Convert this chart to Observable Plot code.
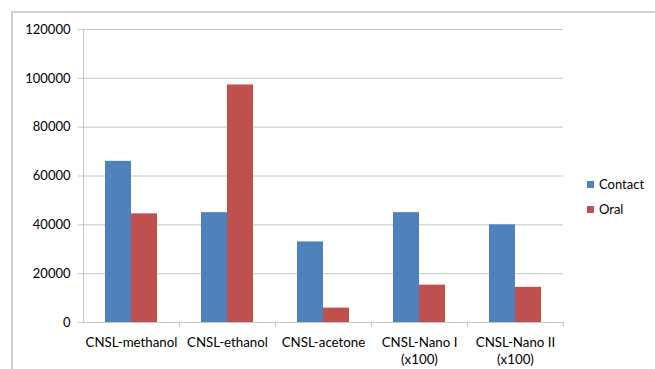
<!DOCTYPE html>
<html><head><meta charset="utf-8">
<script src="https://cdn.jsdelivr.net/npm/d3@7"></script>
<script src="https://cdn.jsdelivr.net/npm/@observablehq/plot@0.6"></script>
<style>
body{margin:0;background:#fff;font-family:Lato,sans-serif}
#wrap{position:relative;width:655px;height:369px;overflow:hidden}
#border{position:absolute;left:11px;top:11px;width:700px;height:400px;border-top:2px solid #cfcfcf;border-left:2px solid #cfcfcf}
#chart{position:absolute;left:0;top:0}
#legend{position:absolute;left:587px;top:172px;font:13px Lato,sans-serif;color:#000}
#legend div{height:25px;display:flex;align-items:center;line-height:1}
#legend span.sw{display:inline-block;width:7px;height:7px;margin-right:5px}
</style></head><body><div id="wrap"><div id="border"></div><div id="chart"></div><div id="legend"></div></div>
<script>
const categories = ["CNSL-methanol","CNSL-ethanol","CNSL-acetone","CNSL-Nano I\n(x100)","CNSL-Nano II\n(x100)"];
const series = ["Contact","Oral"];
const contact = [66000,45000,33000,45000,40000];
const oral = [44500,97300,5900,15300,14400];
const yTicks = [0,20000,40000,60000,80000,100000,120000];
const colors = ["#4F81BD","#C0504D"];

const data = [];
categories.forEach((c,i)=>{
  data.push({category:c, series:series[0], value:contact[i]});
  data.push({category:c, series:series[1], value:oral[i]});
});

const W=655,H=369,mL=82,mR=92,mT=29,mB=47;
const step=(W-mL-mR)/categories.length;
const grid="#c4c4c4";
const plot = Plot.plot({
  width:W,height:H,marginLeft:mL,marginRight:mR,marginTop:mT,marginBottom:mB,
  style:{fontFamily:"Lato, sans-serif", fontSize:"13px", color:"#000", background:"transparent"},
  fx:{domain:categories, padding:0, label:null, axis:null},
  x:{domain:series, paddingInner:0, paddingOuter:0.78, axis:null},
  y:{domain:[0,120000], axis:null},
  color:{domain:series, range:colors},
  marks:[
    Plot.gridY(yTicks,{stroke:grid, strokeOpacity:1}),
    Plot.barY(data,{fx:"category", x:"series", y:"value", fill:"series"}),
    Plot.ruleY([0],{stroke:grid}),
    Plot.frame({anchor:"left", facetAnchor:"left", stroke:grid}),
    Plot.axisY(yTicks,{tickSize:5, tickPadding:8, stroke:grid, fill:"#000", tickFormat:d3.format("d"), label:null}),
    Plot.axisFx({anchor:"bottom", tickSize:0, tickPadding:12, lineHeight:1.28, label:null, fill:"#000", fontSize:13.3}),
    Plot.axisFx({anchor:"bottom", tickSize:5, tickFormat:()=>"", dx:step/2, stroke:grid, label:null})
  ]
});
document.getElementById("chart").appendChild(plot);
const lg=document.getElementById("legend");
series.forEach((s,i)=>{
  const d=document.createElement("div");
  const sw=document.createElement("span");sw.className="sw";sw.style.background=colors[i];
  d.appendChild(sw);d.appendChild(document.createTextNode(s));lg.appendChild(d);
});
</script></body></html>
